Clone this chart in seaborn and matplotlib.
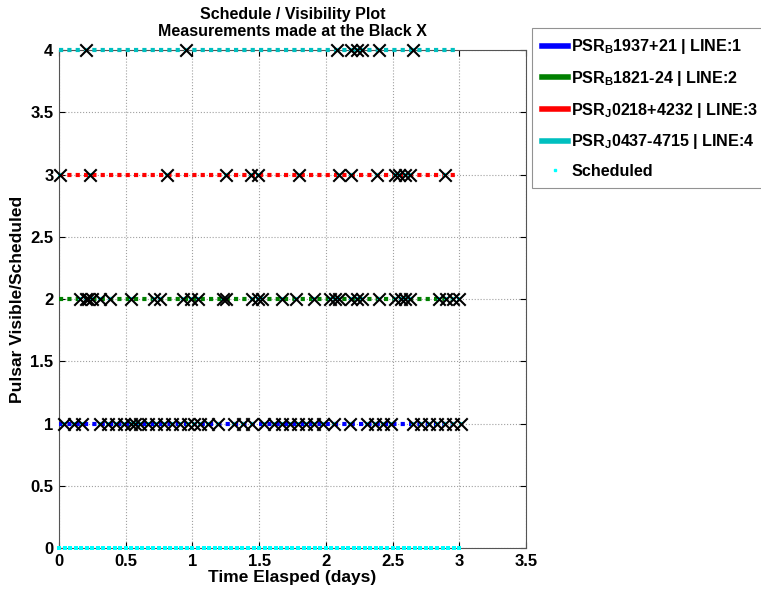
import numpy as np
import pandas as pd
import matplotlib
matplotlib.use("Agg")
import matplotlib.pyplot as plt
import seaborn as sns
from matplotlib.lines import Line2D

# pulsars and their line numbers
pulsar_names = [r"PSR$_\mathregular{B}$1937+21", r"PSR$_\mathregular{B}$1821-24",
                r"PSR$_\mathregular{J}$0218+4232", r"PSR$_\mathregular{J}$0437-4715"]
line_ids = [1, 2, 3, 4]
line_colors = ["#0000ff", "#008000", "#ff0000", "#00bfbf"]

# visibility windows (days) - all four visible over the whole run
vis_start = [0.0, 0.0, 0.0, 0.0]
vis_end = [3.0, 3.0, 3.0, 3.0]
sample_hours = 72  # hourly samples

meas_1 = [0.04, 0.11, 0.17, 0.31, 0.37, 0.43, 0.49, 0.54, 0.57, 0.61, 0.67, 0.73,
          0.79, 0.85, 0.91, 0.97, 1.01, 1.06, 1.12, 1.19, 1.31, 1.38, 1.45, 1.54,
          1.61, 1.67, 1.73, 1.79, 1.85, 1.91, 1.98, 2.06, 2.18, 2.31, 2.37, 2.43,
          2.49, 2.65, 2.71, 2.77, 2.83, 2.89, 2.95, 3.01]
meas_2 = [0.16, 0.20, 0.22, 0.25, 0.31, 0.38, 0.54, 0.71, 0.76, 0.93, 0.99, 1.04,
          1.23, 1.25, 1.45, 1.49, 1.52, 1.67, 1.78, 1.91, 2.03, 2.07, 2.10, 2.19,
          2.23, 2.27, 2.40, 2.52, 2.56, 2.59, 2.63, 2.85, 2.90, 2.95, 3.00]
meas_3 = [0.01, 0.23, 0.81, 1.25, 1.44, 1.49, 1.80, 2.10, 2.19, 2.38, 2.52, 2.55,
          2.59, 2.63, 2.89]
meas_4 = [0.20, 0.95, 2.08, 2.19, 2.23, 2.27, 2.40, 2.65]
measurements = [meas_1, meas_2, meas_3, meas_4]

plt.rcParams["font.family"] = ["Liberation Sans", "DejaVu Sans"]
plt.rcParams["font.weight"] = "bold"
plt.rcParams["mathtext.fontset"] = "custom"
plt.rcParams["mathtext.rm"] = "Liberation Sans:bold"

fig = plt.figure(figsize=(7.61, 5.92), dpi=100)
ax = fig.add_axes([0.0775, 0.0743, 0.6137, 0.8412])

# visibility lines
vis_rows = []
for k, s, e in zip(line_ids, vis_start, vis_end):
    for t in np.linspace(s, e, sample_hours + 1):
        vis_rows.append({"t": t, "line": k})
vis_df = pd.DataFrame(vis_rows)
for k, c in zip(line_ids, line_colors):
    sns.lineplot(data=vis_df[vis_df["line"] == k], x="t", y="line", color=c,
                 linewidth=3, linestyle=(0, (1, 1)), ax=ax, zorder=3)
for ln in ax.lines:
    ln.set_clip_on(False)

# scheduled points: at line when measured, otherwise 0
sched_rows = []
for k, m in zip(line_ids, measurements):
    for t in m:
        sched_rows.append({"t": t, "y": k})
for t in np.linspace(0, 3, sample_hours + 1):
    sched_rows.append({"t": t, "y": 0})
sched_df = pd.DataFrame(sched_rows)
sns.scatterplot(data=sched_df, x="t", y="y", color="#00ffff", marker="s", s=9,
                linewidth=0, ax=ax, zorder=4, clip_on=False)

# measurements made (black X)
meas_df = pd.DataFrame([{"t": t, "y": k} for k, m in zip(line_ids, measurements) for t in m])
sns.scatterplot(data=meas_df, x="t", y="y", color="black", marker="x", s=80,
                linewidth=1.5, ax=ax, zorder=5, clip_on=False)

ax.set_xlim(0, 3.5)
ax.set_ylim(0, 4)
ax.set_xticks(np.arange(0, 3.51, 0.5))
ax.set_yticks(np.arange(0, 4.01, 0.5))
ax.set_xticklabels(["0", "0.5", "1", "1.5", "2", "2.5", "3", "3.5"])
ax.set_yticklabels(["0", "0.5", "1", "1.5", "2", "2.5", "3", "3.5", "4"])
ax.tick_params(direction="in", labelsize=12, length=4, top=True, right=True, pad=4)
ax.grid(True, linestyle=":", color="#a0a0a0", linewidth=0.8)
for sp in ax.spines.values():
    sp.set_color("#555555")
ax.set_xlabel("Time Elasped (days)", fontsize=12.5, fontweight="bold", labelpad=1)
ax.set_ylabel("Pulsar Visible/Scheduled", fontsize=12.5, fontweight="bold", labelpad=4)
ax.set_title("Schedule / Visibility Plot\nMeasurements made at the Black X",
             fontsize=11.5, fontweight="bold", pad=10, linespacing=1.15)

handles = [Line2D([], [], color=c, linewidth=4) for c in line_colors]
labels = [f"{n} | LINE:{k}" for n, k in zip(pulsar_names, line_ids)]
handles.append(Line2D([], [], color="#00ffff", marker="s", markersize=2, linestyle="none"))
labels.append("Scheduled")
leg = fig.legend(handles, labels, loc="upper left", bbox_to_anchor=(0.699, 0.953),
                 prop={"size": 11.6, "weight": "bold"}, frameon=True, fancybox=False,
                 edgecolor="#777777", handlelength=1.65, handletextpad=0.2,
                 borderpad=0.6, borderaxespad=0, labelspacing=0.78)
leg.get_frame().set_linewidth(0.8)

fig.savefig("out.png", dpi=100)
